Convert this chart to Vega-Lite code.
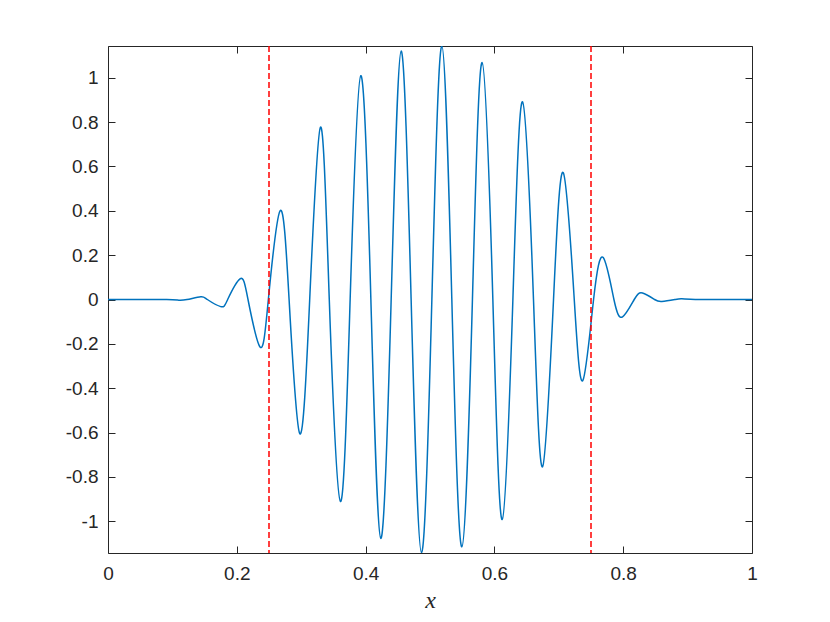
{
  "$schema": "https://vega.github.io/schema/vega-lite/v6.json",
  "autosize": {"type": "none"},
  "padding": {"left": 108, "top": 46, "right": 78, "bottom": 69},
  "width": 644,
  "height": 507,
  "background": "white",
  "config": {
    "view": {"stroke": "#262626", "strokeWidth": 1},
    "axis": {
      "grid": false,
      "domain": false,
      "tickColor": "#262626",
      "tickWidth": 1,
      "tickSize": -7,
      "labelColor": "#262626",
      "labelFont": "Liberation Sans",
      "labelFontSize": 19,
      "labelFlush": false,
      "labelOverlap": false,
      "titleColor": "#262626"
    }
  },
  "datasets": {
    "wave": [
      {"x": 0, "y": 0}, {"x": 0.04, "y": 0}, {"x": 0.0911, "y": 0},
      {"x": 0.11, "y": -0.003}, {"x": 0.1227, "y": 0},
      {"x": 0.144, "y": 0.012}, {"x": 0.1543, "y": 0},
      {"x": 0.175, "y": -0.032}, {"x": 0.1858, "y": 0},
      {"x": 0.205, "y": 0.093}, {"x": 0.2174, "y": 0},
      {"x": 0.2361, "y": -0.214}, {"x": 0.249, "y": 0},
      {"x": 0.2672, "y": 0.40}, {"x": 0.2812, "y": 0},
      {"x": 0.2978, "y": -0.605}, {"x": 0.3132, "y": 0},
      {"x": 0.3299, "y": 0.777}, {"x": 0.3436, "y": 0},
      {"x": 0.3609, "y": -0.910}, {"x": 0.3760, "y": 0},
      {"x": 0.3925, "y": 1.009}, {"x": 0.4082, "y": 0},
      {"x": 0.4236, "y": -1.077}, {"x": 0.4397, "y": 0},
      {"x": 0.4552, "y": 1.120}, {"x": 0.4707, "y": 0},
      {"x": 0.4868, "y": -1.142}, {"x": 0.5029, "y": 0},
      {"x": 0.5184, "y": 1.143}, {"x": 0.5339, "y": 0},
      {"x": 0.5495, "y": -1.115}, {"x": 0.5659, "y": 0},
      {"x": 0.5810, "y": 1.068}, {"x": 0.5976, "y": 0},
      {"x": 0.6122, "y": -0.992}, {"x": 0.6287, "y": 0},
      {"x": 0.6437, "y": 0.891}, {"x": 0.6607, "y": 0},
      {"x": 0.6748, "y": -0.754}, {"x": 0.6918, "y": 0},
      {"x": 0.7069, "y": 0.572}, {"x": 0.7240, "y": 0},
      {"x": 0.7374, "y": -0.365}, {"x": 0.754, "y": 0},
      {"x": 0.769, "y": 0.189}, {"x": 0.7856, "y": 0},
      {"x": 0.799, "y": -0.078}, {"x": 0.8171, "y": 0},
      {"x": 0.830, "y": 0.029}, {"x": 0.8487, "y": 0},
      {"x": 0.860, "y": -0.009}, {"x": 0.8803, "y": 0},
      {"x": 0.891, "y": 0.003}, {"x": 0.912, "y": 0},
      {"x": 0.95, "y": 0}, {"x": 1, "y": 0}
    ],
    "bounds": [{"xb": 0.25}, {"xb": 0.75}]
  },
  "layer": [
    {
      "data": {"name": "wave"},
      "mark": {"type": "line", "interpolate": "natural", "color": "#0072BD", "strokeWidth": 1.5, "clip": true},
      "encoding": {
        "x": {"field": "x", "type": "quantitative", "scale": {"domain": [0, 1], "nice": false, "zero": false},
          "axis": {"orient": "bottom", "values": [0, 0.2, 0.4, 0.6, 0.8, 1], "format": "~g", "labelPadding": 18,
            "title": "x", "titleFont": "Liberation Serif", "titleFontStyle": "italic", "titleFontWeight": "normal", "titleFontSize": 24, "titlePadding": 5}},
        "y": {"field": "y", "type": "quantitative", "scale": {"domain": [-1.143, 1.143], "nice": false, "zero": false},
          "axis": {"orient": "left", "values": [-1, -0.8, -0.6, -0.4, -0.2, 0, 0.2, 0.4, 0.6, 0.8, 1],
            "labelExpr": "datum.value < 0 ? '-' + format(-datum.value, '~g') : format(datum.value, '~g')",
            "labelPadding": 17, "title": null}}
      }
    },
    {
      "data": {"name": "bounds"},
      "mark": {"type": "rule", "color": "#FF0000", "strokeWidth": 1.5, "strokeDash": [6, 3]},
      "encoding": {
        "x": {"field": "xb", "type": "quantitative", "axis": null}
      }
    },
    {
      "data": {"name": "wave"},
      "mark": {"type": "line", "opacity": 0},
      "encoding": {
        "x": {"field": "x", "type": "quantitative",
          "axis": {"orient": "top", "values": [0, 0.2, 0.4, 0.6, 0.8, 1], "labels": false, "title": null}},
        "y": {"field": "y", "type": "quantitative",
          "axis": {"orient": "right", "values": [-1, -0.8, -0.6, -0.4, -0.2, 0, 0.2, 0.4, 0.6, 0.8, 1], "labels": false, "title": null}}
      }
    }
  ],
  "resolve": {"axis": {"x": "independent", "y": "independent"}}
}
